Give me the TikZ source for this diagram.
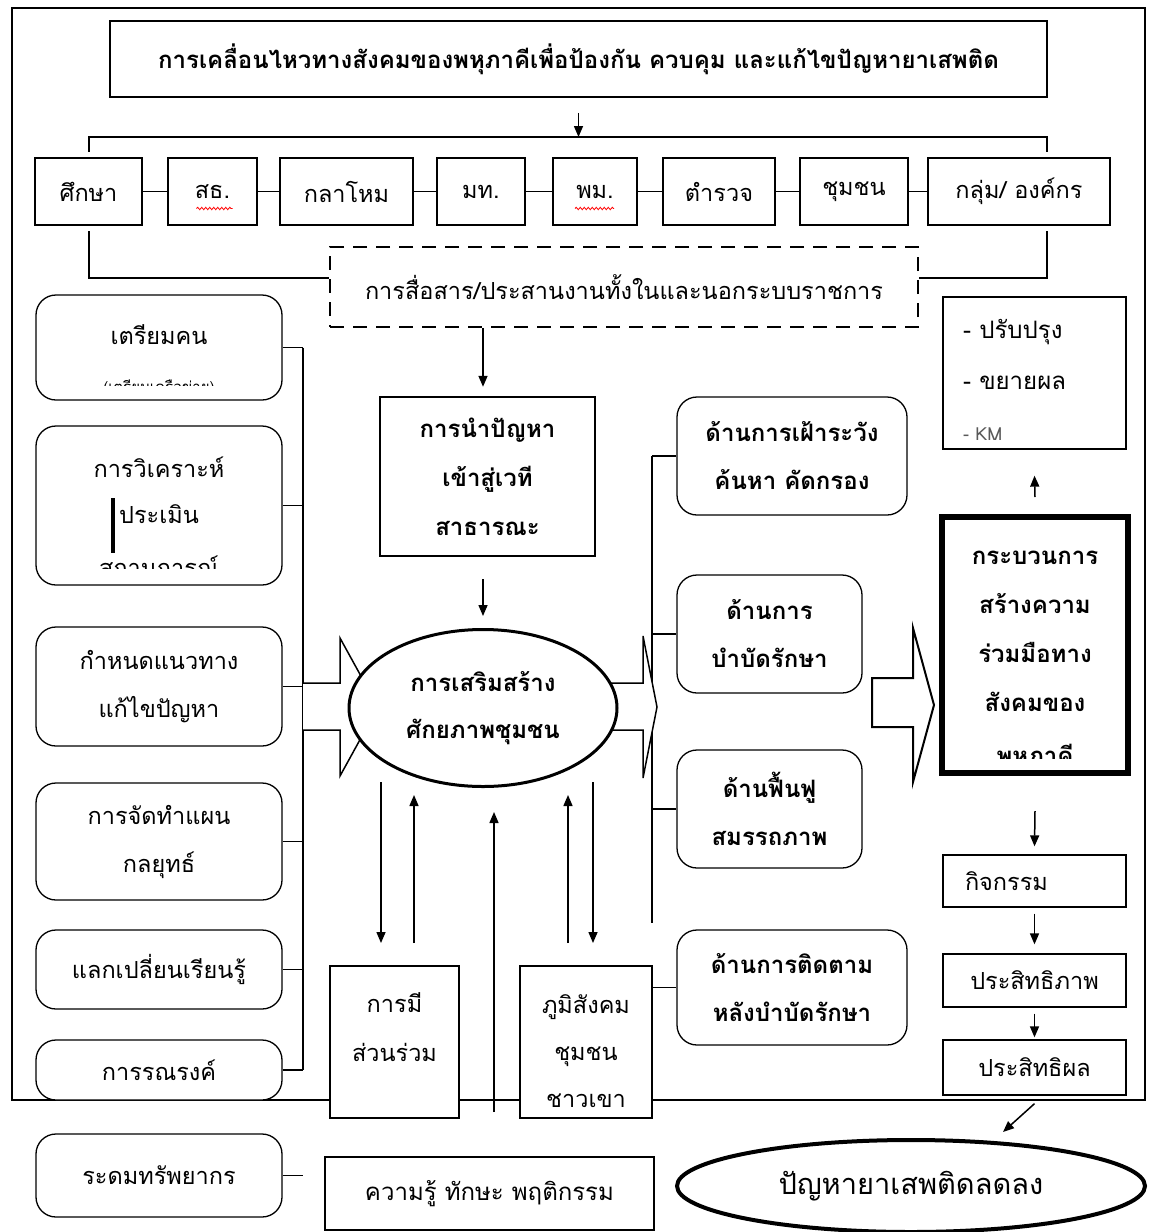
\documentclass[tikz,border=0pt]{standalone}
\usepackage{fontspec}
\newfontfamily\thai[Script=Thai]{Loma}
\usetikzlibrary{positioning}
\usetikzlibrary{arrows.meta}
\usetikzlibrary{shapes.geometric}
\usetikzlibrary{decorations.pathmorphing}

\begin{document}
\begin{tikzpicture}[x=1pt, y=-1pt,
    box/.style={rectangle, draw=black, fill=white, line width=1.3pt, inner sep=0pt, align=center, font=\thai\fontsize{23.5}{48}\selectfont},
    agency/.style={box, line width=2.6pt, minimum height=67pt},
    rbox/.style={box, rounded corners=20pt, minimum width=246pt},
    rboxb/.style={box, rounded corners=20pt, font=\thai\bfseries\fontsize{24}{48}\selectfont},
    txt/.style={inner sep=0pt, align=center, font=\thai\fontsize{23.5}{46}\selectfont},
    txtb/.style={inner sep=0pt, align=center, font=\thai\bfseries\fontsize{24}{49}\selectfont},
    oval/.style={ellipse, draw=black, fill=white, line width=3pt, inner sep=0pt, align=center},
    arr/.style={-{Triangle[length=11pt, width=9pt]}, line width=1.5pt},
    link/.style={line width=1.3pt},
    blockarrow/.style={draw=black, fill=white, line width=1.5pt, line join=miter},
    squiggle/.style={red, line width=0.8pt, decorate, decoration={snake, amplitude=1.2pt, segment length=4pt}}]
    \useasboundingbox (0,0) rectangle (1149,1232);

    % outer frame
    \draw[line width=1.5pt] (12,8) rectangle (1145,1100);

    % title and agencies
    \node[box, line width=1.5pt, minimum width=937pt, minimum height=76pt, font=\thai\bfseries\fontsize{24}{28}\selectfont] (title) at (578.5,59) {การเคลื่อนไหวทางสังคมของพหุภาคีเพื่อป้องกัน ควบคุม และแก้ไขปัญหายาเสพติด};

    \foreach \n/\x/\w/\t in {sueksa/88.5/107/ศึกษา, sathor/212.5/89/สธ., kalahom/346.5/133/กลาโหม, mahadthai/481/88/มท., phom/595/84/พม., tamruat/719/112/ตำรวจ, chumchon/854/108/ชุมชน, klum/1019/182/{กลุ่ม/ องค์กร}}
        \node[agency, minimum width=\w pt] (\n) at (\x,191.5) {\t};
    \foreach \a/\b in {sueksa/sathor, sathor/kalahom, kalahom/mahadthai, mahadthai/phom, phom/tamruat, tamruat/chumchon, chumchon/klum}
        \draw[link] (\a) -- (\b);
    \draw[squiggle] ([xshift=-16pt,yshift=-17pt]sathor.center) -- ([xshift=20pt,yshift=-17pt]sathor.center);
    \draw[squiggle] ([xshift=-20pt,yshift=-17pt]phom.center) -- ([xshift=19pt,yshift=-17pt]phom.center);

    \coordinate (barL) at (89,137);
    \coordinate (barR) at (1047,137);
    \draw[link] ([yshift=5pt]sueksa.north -| barL) -- (barL) -- (barR) -- ([yshift=5pt]klum.north -| barR);
    \draw[arr] ([yshift=-15pt]title.south) -- (title.south |- barL);

    \node[box, dashed, dash pattern=on 14pt off 9pt, line width=2pt, minimum width=588pt, minimum height=80pt] (comm) at (624,287) {การสื่อสาร/ประสานงานทั้งในและนอกระบบราชการ};
    \coordinate (lowL) at (89,278);
    \coordinate (lowR) at (1047,278);
    \draw[link] ([yshift=-5pt]sueksa.south -| lowL) -- (lowL) -- (lowL -| comm.west);
    \draw[link] ([yshift=-5pt]klum.south -| lowR) -- (lowR) -- (lowR -| comm.east);

    % left column
    \coordinate (lbar) at (303,0);
    \node[rbox, minimum height=105pt] (prep) at (159,347.5) {};
    \node[txt] (preptext) at (159,335) {เตรียมคน};
    \begin{scope}
        \clip (37,300) rectangle (281,385);
        \node[txt, font=\thai\fontsize{15}{17}\selectfont] (prepmore) at (159,388) {(เตรียมเครือข่าย)};
    \end{scope}
    \node[rbox, minimum height=159pt] (analyse) at (159,505.5) {};
    \node[txt] (analysetext) at (159,490) {การวิเคราะห์\\ประเมิน};
    \draw[line width=4pt] (113,498) -- (113,553);
    \begin{scope}
        \clip (37,430) rectangle (281,568);
        \node[txt] (analysemore) at (159,566) {สถานการณ์};
    \end{scope}
    \node[rbox, minimum height=119pt] (guide) at (159,686.5) {กำหนดแนวทาง\\แก้ไขปัญหา};
    \node[rbox, minimum height=117pt] (plan) at (159,841.5) {การจัดทำแผน\\กลยุทธ์};
    \node[rbox, minimum height=79pt] (learn) at (159,969.5) {แลกเปลี่ยนเรียนรู้};
    \node[rbox, minimum height=60pt] (campaign) at (159,1070) {การรณรงค์};
    \node[rbox, minimum height=83pt] (resource) at (159,1175.5) {ระดมทรัพยากร};

    \foreach \b in {prep, analyse, guide, plan, learn, campaign, resource}
        \draw[link] (\b.east) -- (\b.east -| lbar);
    \draw[link] (prep.east -| lbar) -- (campaign.east -| lbar);

    % right side boxes
    \coordinate (rbar) at (652,0);
    \coordinate (rbarend) at (652,923);
    \node[rboxb, minimum width=230pt, minimum height=118pt] (watch) at (792,456) {ด้านการเฝ้าระวัง\\ค้นหา คัดกรอง};
    \node[rboxb, minimum width=185pt, minimum height=118pt] (treat) at (769.5,634) {ด้านการ\\บำบัดรักษา};
    \node[rboxb, minimum width=185pt, minimum height=118pt] (rehab) at (769.5,809) {ด้านฟื้นฟู\\สมรรถภาพ};
    \node[rboxb, minimum width=230pt, minimum height=115pt] (follow) at (792,987.5) {ด้านการติดตาม\\หลังบำบัดรักษา};
    \draw[link] (watch.west -| rbar) -- (rbarend);
    \foreach \b in {watch, treat, rehab}
        \draw[link] (\b.west -| rbar) -- (\b.west);

    % block arrows into and out of the centre
    \draw[blockarrow] (303,683) -- (340,683) -- (340,638) -- (378,707) -- (340,776) -- (340,730) -- (303,730);
    \draw[blockarrow] (600,683) -- (643,683) -- (643,636) -- (657,707) -- (643,778) -- (643,730) -- (600,730);

    % centre
    \node[box, line width=2.4pt, minimum width=215pt, minimum height=159pt, font=\thai\bfseries\fontsize{24}{49}\selectfont] (problem) at (487.5,476.5) {การนำปัญหา\\เข้าสู่เวที\\สาธารณะ};
    \node[oval, minimum width=268pt, minimum height=157pt, font=\thai\bfseries\fontsize{24}{47}\selectfont] (empower) at (483,708) {การเสริมสร้าง\\ศักยภาพชุมชน};
    \draw[arr] ([xshift=-4.5pt]problem.north |- comm.south) -- ([xshift=-4.5pt,yshift=9pt]problem.north);
    \draw[arr] ([xshift=-4.5pt,yshift=-22pt]problem.south) -- ([yshift=12pt]empower.north);

    \node[box, minimum width=129pt, minimum height=152pt] (particip) at (394.5,1042) {};
    \node[txt, font=\thai\fontsize{23.5}{49}\selectfont] (participtext) at (394.5,1027) {การมี\\ส่วนร่วม};
    \node[box, minimum width=132pt, minimum height=152pt] (highland) at (586,1042) {};
    \node[txt, font=\thai\fontsize{23.5}{47}\selectfont] (highlandtext) at (586,1051) {ภูมิสังคม\\ชุมชน\\ชาวเขา};
    \draw[link] (highland.east |- follow.west) -- (follow.west);
    \node[box, minimum width=329pt, minimum height=73pt, font=\thai\fontsize{24}{28}\selectfont] (knowledge) at (489.5,1193.5) {ความรู้ ทักษะ พฤติกรรม};

    \foreach \n/\x/\ya/\yb in {pa/381/782/943, pb/414/943/795, pc/494/1112/812, pd/568/943/795, pe/593/782/943} {
        \coordinate (\n1) at (\x,\ya);
        \coordinate (\n2) at (\x,\yb);
        \draw[arr] (\n1) -- (\n2);
    }

    % right column
    \node[box, minimum width=183pt, minimum height=152pt] (improve) at (1034.5,373) {};
    \node[txt, anchor=west, align=left, font=\thai\fontsize{24}{51}\selectfont] (improvetext) at (963,380) {- ปรับปรุง\\- ขยายผล\\{\fontsize{18}{20}\selectfont\color{black!65}- KM}};
    \draw[blockarrow, line width=2pt] (872,678) -- (913,678) -- (913,628) -- (934,705) -- (913,782) -- (913,727) -- (872,727) -- cycle;
    \node[box, line width=6pt, minimum width=186pt, minimum height=256pt] (coop) at (1035,645) {};
    \node[txtb] (cooptext) at (1035,631) {กระบวนการ\\สร้างความ\\ร่วมมือทาง\\สังคมของ};
    \begin{scope}
        \clip (946,522) rectangle (1124,758);
        \node[txtb] (coopmore) at (1035,757) {พหุภาคี};
    \end{scope}
    \node[box, minimum width=183pt, minimum height=52pt, text width=139pt, align=left] (activity) at (1034.5,881) {กิจกรรม};
    \node[box, minimum width=183pt, minimum height=53pt] (effic) at (1034.5,980.5) {ประสิทธิภาพ};
    \node[box, minimum width=183pt, minimum height=55pt] (effect) at (1034.5,1067.5) {ประสิทธิผล};
    \node[oval, line width=4pt, minimum width=468pt, minimum height=92pt, font=\thai\fontsize{29}{32}\selectfont] (result) at (911,1186) {ปัญหายาเสพติดลดลง};

    \draw[arr] ([yshift=17pt]coop.north) -- ([yshift=-26pt]improve.south);
    \draw[arr] ([yshift=-35pt]coop.south) -- ([yshift=8pt]activity.north);
    \draw[arr] ([yshift=-6pt]activity.south) -- ([yshift=9pt]effic.north);
    \draw[arr] ([yshift=-6pt]effic.south) -- ([yshift=2pt]effect.north);
    \coordinate (resulttop) at (1003,1132);
    \draw[arr] ([yshift=-8pt]effect.south) -- (resulttop);
\end{tikzpicture}
\end{document}
